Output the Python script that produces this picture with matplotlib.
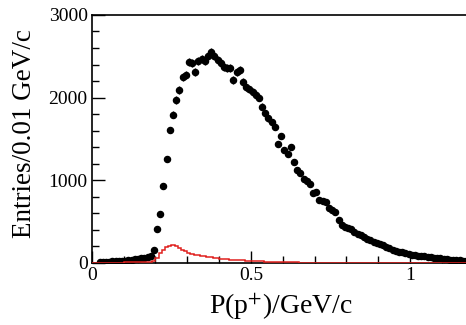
import numpy as np
import matplotlib
matplotlib.use("Agg")
import matplotlib.pyplot as plt
from matplotlib.ticker import MultipleLocator

# ── data: entries per 0.01 GeV/c bin, starting at 0 ────────────────
BIN_W = 0.01
data_counts = [
    0, 0, 10, 12, 14, 16, 18, 20, 23, 26, 29, 33, 37, 42, 48, 55, 63, 72, 85,
    157, 407, 589, 935, 1258, 1610, 1790, 1970, 2090, 2245, 2275,
    2435, 2420, 2306, 2442, 2463, 2442, 2503, 2555, 2503, 2455,
    2422, 2374, 2354, 2354, 2213, 2313, 2334, 2193, 2124, 2100,
    2071, 2031, 1999, 1890, 1810, 1750, 1700, 1648, 1439, 1536,
    1366, 1318, 1406, 1218, 1125, 1085, 1012, 990, 950, 843,
    862, 762, 750, 741, 661, 641, 620, 520, 459, 439,
    425, 410, 378, 350, 335, 318, 290, 275, 258, 240,
    235, 218, 195, 178, 160, 150, 137, 130, 120, 112,
    100, 95, 88, 84, 78, 75, 70, 65, 60, 55,
    50, 45, 40, 37, 34, 30, 27, 25,
]
bkg_counts = [
    0, 1, 2, 2, 3, 3, 4, 4, 5, 5, 6, 6, 7, 7, 8, 9, 10, 11, 13,
    20, 60, 115, 160, 190, 205, 218, 200, 180, 160, 140,
    125, 112, 100, 95, 88, 80, 76, 70, 62, 55,
    48, 45, 42, 40, 38, 36, 33, 30, 28, 26,
    24, 22, 20, 18, 16, 14, 13, 12, 10, 9,
    8, 7, 7, 6, 6, 5, 5, 4, 4, 4,
    3, 3, 3, 3, 3, 3, 3, 3, 2, 2,
    2, 2, 2, 2, 2, 2, 2, 2, 2, 2,
    2, 2, 2, 1, 1, 1, 1, 1, 1, 1,
    1, 1, 1, 1, 1, 1, 1, 1, 1, 1,
    1, 1, 1, 1, 1, 1, 1, 1,
]

data = np.array(data_counts, dtype=float)
bkg = np.array(bkg_counts, dtype=float)
edges = np.arange(len(data) + 1) * BIN_W
centers = edges[:-1] + BIN_W / 2
shown = data > 0

plt.rcParams["font.family"] = ["Liberation Serif", "DejaVu Serif"]
plt.rcParams["mathtext.fontset"] = "stix"

fig = plt.figure(figsize=(4.66, 3.25), dpi=100)
ax = fig.add_axes([0.197, 0.191, 0.813, 0.763])

ax.errorbar(centers[shown], data[shown], yerr=np.sqrt(data[shown]),
            xerr=BIN_W / 2, fmt="o", color="black", markersize=4.4,
            elinewidth=1.0, capsize=0, zorder=3)
ax.stairs(bkg, edges, color="#e0201e", linewidth=1.1, zorder=4)

ax.set_xlim(0, 1.19)
ax.set_ylim(0, 3000)
ax.xaxis.set_minor_locator(MultipleLocator(0.1))
ax.yaxis.set_major_locator(MultipleLocator(1000))
ax.yaxis.set_minor_locator(MultipleLocator(200))
ax.set_xticks([0, 0.5, 1])
ax.set_xticklabels(["0", "0.5", "1"])
ax.tick_params(which="both", direction="in", top=False, right=False,
               labelsize=14, width=1.0)
ax.tick_params(which="major", length=9, pad=3)
ax.tick_params(which="minor", length=5)
ax.spines["right"].set_visible(False)
for s in ("left", "bottom", "top"):
    ax.spines[s].set_linewidth(1.2)

ax.set_ylabel("Entries/0.01 GeV/c", fontsize=19.5)
ax.yaxis.set_label_coords(-0.145, 0.52)
ax.set_xlabel(r"P(p$^{+}$)/GeV/c", fontsize=20, labelpad=5)

fig.savefig("out.png", dpi=100)
